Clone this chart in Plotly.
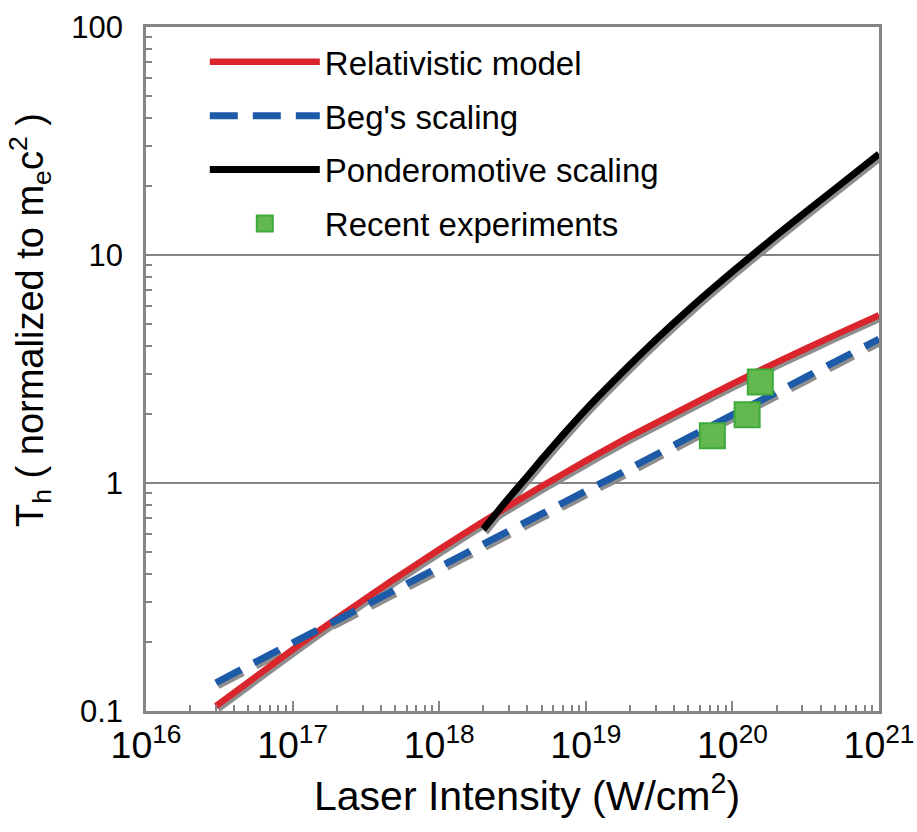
import plotly.graph_objects as go

# Laser intensity grid (W/cm^2) for the model curves
intensity = [3e16, 5e16, 1e17, 2e17, 5e17, 1e18, 2e18, 5e18, 1e19, 2e19, 5e19, 1e20, 2e20, 5e20, 1e21]

# Hot-electron temperature, normalized to m_e c^2
relativistic_model = [0.105, 0.134, 0.186, 0.255, 0.381, 0.511, 0.678, 0.967, 1.25, 1.60, 2.17, 2.72, 3.38, 4.45, 5.45]
begs_scaling = [0.133, 0.158, 0.199, 0.250, 0.340, 0.428, 0.539, 0.732, 0.922, 1.16, 1.58, 1.99, 2.50, 3.40, 4.28]

# Ponderomotive scaling only drawn from 2e18 upward
pond_intensity = [2e18, 2.5e18, 3e18, 4e18, 5e18, 7e18, 1e19, 2e19, 3e19, 5e19, 1e20, 2e20, 5e20, 1e21]
ponderomotive = [0.627, 0.749, 0.863, 1.07, 1.27, 1.63, 2.10, 3.30, 4.25, 5.75, 8.45, 12.2, 19.5, 27.7]

# Recent experimental points
exp_intensity = [7.3e19, 1.26e20, 1.55e20]
exp_temperature = [1.61, 1.99, 2.77]

RED = "#d9252b"
BLUE = "#1d5ba8"
BLACK = "#000000"
SHADOW = "#8e8e8e"
AXIS_GRAY = "#858585"
FONT = "Liberation Sans, Arial, sans-serif"

W, H = 917, 832
L_M, T_M = 146, 27
DX, DY = 2, 3          # drop-shadow offset in pixels
PW = 879 + DX - L_M    # paper width
PH = 711 + DY - T_M    # paper height
B_M = H - T_M - PH
R_M = W - L_M - PW

fig = go.Figure()

curves = [
    (intensity, relativistic_model, RED, "solid", 6.5, "Relativistic model"),
    (intensity, begs_scaling, BLUE, "28px,15px", 7, "Beg's scaling"),
    (pond_intensity, ponderomotive, BLACK, "solid", 7, "Ponderomotive scaling"),
]

# gray drop shadows on the lower subplot (drawn first, underneath)
for xs, ys, _, dash, w, _ in curves:
    fig.add_trace(go.Scatter(
        x=xs, y=ys, mode="lines", xaxis="x", yaxis="y",
        line=dict(color=SHADOW, width=w, dash=dash, shape="spline", smoothing=0.6),
        showlegend=False, hoverinfo="skip",
    ))

# main curves
for i, (xs, ys, color, dash, w, name) in enumerate(curves):
    fig.add_trace(go.Scatter(
        x=xs, y=ys, mode="lines", xaxis="x2", yaxis="y2", name=name,
        legendgroup=f"g{i}",
        line=dict(color=color, width=w, dash=dash, shape="spline", smoothing=0.6),
    ))

fig.add_trace(go.Scatter(
    x=exp_intensity, y=exp_temperature, mode="markers", xaxis="x2", yaxis="y2",
    name="Recent experiments", legendgroup="g3",
    marker=dict(symbol="square", size=25, color="#63b94f",
                line=dict(color="#3eaa3a", width=2)),
))

hidden = dict(type="log", visible=False, showgrid=False, zeroline=False, automargin=False)

fig.update_layout(
    width=W, height=H,
    margin=dict(l=L_M, r=R_M, t=T_M, b=B_M, autoexpand=False),
    paper_bgcolor="white", plot_bgcolor="rgba(0,0,0,0)",
    font=dict(family=FONT, color="black"),
    xaxis=dict(domain=[DX / PW, 1], range=[16, 21], anchor="y", **hidden),
    yaxis=dict(domain=[0, 1 - DY / PH], range=[-1, 2], anchor="x", **hidden),
    xaxis2=dict(
        type="log", range=[16, 21], domain=[0, 1 - DX / PW], anchor="y2",
        dtick=1, exponentformat="power", showexponent="all",
        showgrid=False, zeroline=False, automargin=False,
        showline=True, linecolor=AXIS_GRAY, linewidth=2.5, mirror=True,
        ticks="inside", ticklen=10, tickwidth=1.5, tickcolor=AXIS_GRAY,
        minor=dict(ticks="inside", ticklen=6, tickwidth=1.5, tickcolor=AXIS_GRAY,
                   dtick="D1", showgrid=False),
        tickfont=dict(size=30, family=FONT), ticklabelstandoff=1,
    ),
    yaxis2=dict(
        type="log", range=[-1, 2], domain=[DY / PH, 1], anchor="x2",
        dtick=1, showgrid=True, gridcolor=AXIS_GRAY, gridwidth=1.5,
        zeroline=False, automargin=False,
        showline=True, linecolor=AXIS_GRAY, linewidth=2.5, mirror=True,
        ticks="", minor=dict(ticks="inside", ticklen=6, tickwidth=1.5,
                             tickcolor=AXIS_GRAY, dtick="D1", showgrid=False),
        tickfont=dict(size=31, family=FONT), ticklabelstandoff=14,
    ),
    legend=dict(
        x=0.08, y=0.99, xanchor="left", yanchor="top",
        bgcolor="rgba(0,0,0,0)", borderwidth=0,
        font=dict(size=33, family=FONT),
        itemwidth=110, tracegroupgap=8, traceorder="grouped",
    ),
    annotations=[
        dict(text="Laser Intensity (W/cm<sup>2</sup>)", xref="paper", yref="paper",
             x=(527 - L_M) / PW, y=-(793 - 714) / PH, xanchor="center", yanchor="middle",
             showarrow=False, font=dict(size=41, family=FONT)),
        dict(text="T<sub>h</sub> ( normalized to m<sub>e</sub>c<sup>2</sup> )",
             xref="paper", yref="paper", textangle=-90,
             x=(30 - L_M) / PW, y=(714 - 320) / PH, xanchor="center", yanchor="middle",
             showarrow=False, font=dict(size=38, family=FONT)),
    ],
)

fig.write_html("out.html")
